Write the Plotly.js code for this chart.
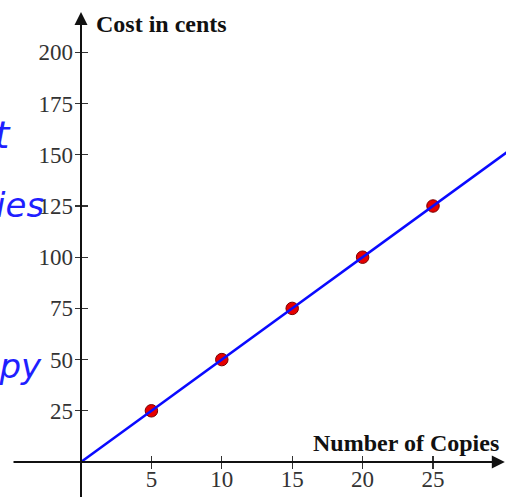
<!DOCTYPE html>
<html>
<head>
<meta charset="utf-8">
<script src="https://cdn.plot.ly/plotly-3.0.1.min.js"></script>
<style>html,body{margin:0;padding:0;background:#fff;}#chart{width:506px;height:497px;}</style>
</head>
<body>
<div id="chart"></div>
<script>
// Data
const copies = [5, 10, 15, 20, 25];
const costCents = [25, 50, 75, 100, 125];
const lineCopies = [0, 32];
const lineCents = [0, 160];
const xTicks = [5, 10, 15, 20, 25];
const yTicks = [25, 50, 75, 100, 125, 150, 175, 200];

const xRange = [-5.753, 30.185];
const yRange = [-17.09, 225.59];
const xPos = (0 - yRange[0]) / (yRange[1] - yRange[0]);
const yPos = (0 - xRange[0]) / (xRange[1] - xRange[0]);

const tickFont = {family: 'Liberation Serif', size: 23, color: '#333'};

const traces = [
  {x: copies, y: costCents, type: 'scatter', mode: 'markers',
   marker: {size: 12.5, color: '#e60000', line: {color: '#7a0000', width: 1}}},
  {x: lineCopies, y: lineCents, type: 'scatter', mode: 'lines',
   line: {color: '#0a0aff', width: 2.5}},
  {x: [null], y: [null], xaxis: 'x2', yaxis: 'y2', type: 'scatter', mode: 'markers'},
  {x: [null], y: [null], xaxis: 'x3', yaxis: 'y3', type: 'scatter', mode: 'markers'}
];

const common = {showgrid: false, zeroline: false, showline: false, fixedrange: true, automargin: false, tickcolor: '#333', tickwidth: 1.2, ticklen: 6, tickfont: tickFont, tickmode: 'array'};

const layout = {
  width: 506, height: 497,
  margin: {l: 0, r: 0, t: 0, b: 0},
  paper_bgcolor: '#fff', plot_bgcolor: '#fff',
  showlegend: false,
  // labelled axes (no tick marks, so labels sit close to the axis)
  xaxis: Object.assign({}, common, {range: xRange, anchor: 'free', position: xPos, tickvals: xTicks, ticktext: xTicks.map(String), ticks: '', ticklabelstandoff: 1}),
  yaxis: Object.assign({}, common, {range: yRange, anchor: 'free', position: yPos, tickvals: yTicks, ticktext: yTicks.map(String), ticks: '', ticklabelstandoff: 8}),
  // tick marks crossing the axes
  xaxis2: Object.assign({}, common, {range: xRange, overlaying: 'x', anchor: 'free', position: xPos, tickvals: xTicks, ticks: 'inside', showticklabels: false}),
  yaxis2: Object.assign({}, common, {range: yRange, overlaying: 'y', anchor: 'free', position: yPos, tickvals: yTicks, ticks: 'inside', showticklabels: false}),
  xaxis3: Object.assign({}, common, {range: xRange, overlaying: 'x', anchor: 'free', position: xPos, tickvals: xTicks, ticks: 'outside', showticklabels: false}),
  yaxis3: Object.assign({}, common, {range: yRange, overlaying: 'y', anchor: 'free', position: yPos, tickvals: yTicks, ticks: 'outside', showticklabels: false}),
  annotations: [
    // y axis with arrow
    {x: 0, y: 219.7, ax: 0, ay: yRange[0] - 5, xref: 'x', yref: 'y', axref: 'x', ayref: 'y',
     showarrow: true, arrowhead: 2, arrowsize: 1.3, arrowwidth: 2, arrowcolor: '#111', text: '', standoff: 0},
    // x axis with arrow
    {x: 30.1, y: 0, ax: -4.9, ay: 0, xref: 'x', yref: 'y', axref: 'x', ayref: 'y',
     showarrow: true, arrowhead: 2, arrowsize: 1.3, arrowwidth: 2, arrowcolor: '#111', text: '', standoff: 0},
    {xref: 'paper', yref: 'paper', x: 94 / 506, y: 1 - 24 / 497, xanchor: 'left', yanchor: 'middle',
     text: '<b>Cost in cents</b>', showarrow: false,
     font: {family: 'Liberation Serif', size: 24, color: '#111'}},
    {xref: 'paper', yref: 'paper', x: 501 / 506, y: 1 - 443 / 497, xanchor: 'right', yanchor: 'middle',
     text: '<b>Number of Copies</b>', showarrow: false,
     font: {family: 'Liberation Serif', size: 24, color: '#111'}},
    // handwritten notes (cut off at the left edge, as in the reference)
    {xref: 'paper', yref: 'paper', x: 14 / 506, y: 1 - 135 / 497, xanchor: 'right', yanchor: 'middle',
     text: 'Cost', showarrow: false,
     font: {family: 'DejaVu Sans', size: 38, color: '#1f1fff', style: 'italic'}},
    {xref: 'paper', yref: 'paper', x: 46 / 506, y: 1 - 205 / 497, xanchor: 'right', yanchor: 'middle',
     text: 'copies', showarrow: false,
     font: {family: 'DejaVu Sans', size: 34, color: '#1f1fff', style: 'italic'}},
    {xref: 'paper', yref: 'paper', x: 44 / 506, y: 1 - 366 / 497, xanchor: 'right', yanchor: 'middle',
     text: 'copy', showarrow: false,
     font: {family: 'DejaVu Sans', size: 34, color: '#1f1fff', style: 'italic'}}
  ]
};

Plotly.newPlot('chart', traces, layout, {displayModeBar: false, staticPlot: true});
</script>
</body>
</html>
